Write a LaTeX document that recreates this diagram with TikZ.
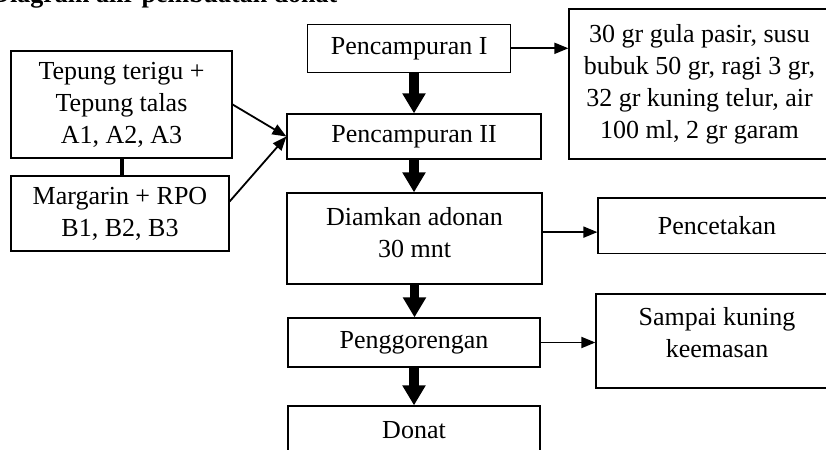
\documentclass[tikz,border=0pt]{standalone}
\usepackage{fontspec}
\setmainfont{Liberation Serif}
\usetikzlibrary{calc,arrows.meta}

\tikzset{
  box/.style={draw,line width=0.6pt,inner sep=0pt,align=center,font=\fontsize{13}{16}\selectfont},
  flow/.style={-{Triangle[width=11pt,length=10pt]},line width=4.8pt},
  link/.style={-{Triangle[width=5.5pt,length=7pt]},line width=0.9pt},
}

\begin{document}
\begin{tikzpicture}[x=0.5pt,y=-0.5pt]
        \useasboundingbox (0,0) rectangle (826,450);
        % Title (cut by the page edge)
        \node[anchor=base west,inner sep=0pt,font=\fontsize{13}{16}\selectfont\bfseries] (title) at (-9,2) {Diagram alir pembuatan donat};
        % Raw materials
        \node[box,minimum width=110.5pt,minimum height=53.5pt] (tepung) at (121.5,104.5) {Tepung terigu +\\Tepung talas\\A1, A2, A3};
        \node[box,minimum width=109pt,minimum height=37.5pt] (margarin) at (120,213.5) {Margarin + RPO\\B1, B2, B3};
        % Process steps
        \node[box,minimum width=101.5pt,minimum height=24pt] (campurA) at (409.2,48.3) {Pencampuran I};
        \node[box,minimum width=127pt,minimum height=22.5pt] (campurB) at (414,136.5) {Pencampuran II};
        \node[box,minimum width=127.5pt,minimum height=45.5pt,text depth=6pt] (diam) at (414.5,238.5) {Diamkan adonan\\30 mnt};
        \node[box,minimum width=126pt,minimum height=24.5pt] (goreng) at (414,342.5) {Penggorengan};
        \node[box,minimum width=126pt,minimum height=24pt] (donat) at (414,430) {Donat};
        % Side notes
        \node[box,minimum width=130.5pt,minimum height=75pt] (bahan) at (699.5,84) {30 gr gula pasir, susu\\bubuk 50 gr, ragi 3 gr,\\32 gr kuning telur, air\\100 ml, 2 gr garam};
        \node[box,minimum width=119pt,minimum height=27.75pt] (cetak) at (717,225.75) {Pencetakan};
        \node[box,minimum width=121pt,minimum height=47pt,text depth=9pt] (sampai) at (717,341) {Sampai kuning\\keemasan};
        % Main flow
        \draw[flow] (campurA.south -| campurB.north) -- (campurB.north);
        \draw[flow] (campurB.south) -- (campurB.south |- diam.north);
        \draw[flow] (diam.south) -- (diam.south |- goreng.north);
        \draw[flow] (goreng.south) -- (donat.north);
        % Inputs
        \draw[line width=2pt] (tepung.south) -- (tepung.south |- margarin.north);
        \draw[link] (tepung.east) -- (campurB.west);
        \draw[link] ($(margarin.east)+(0,-12)$) -- (campurB.west);
        % Side arrows
        \coordinate (m1) at ($(diam.east)!0.5!(cetak.west)$);
        \draw[link] (campurA.east) -- (campurA.east -| bahan.west);
        \draw[link] (diam.east |- m1) -- (cetak.west |- m1);
        \draw[link] (goreng.east) -- (goreng.east -| sampai.west);
\end{tikzpicture}
\end{document}
